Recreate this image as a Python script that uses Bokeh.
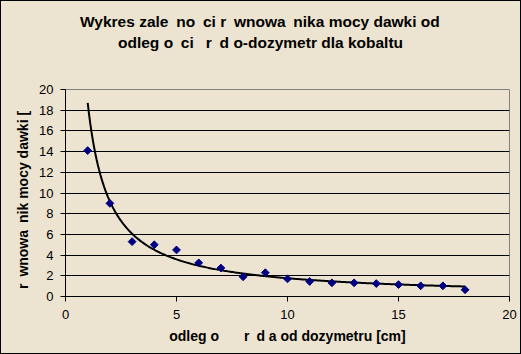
import numpy as np
from bokeh.plotting import figure
from bokeh.layouts import column
from bokeh.models import Title, FixedTicker
from bokeh.embed import file_html
from bokeh.resources import INLINE

# --- data ---
distance_cm = [1, 2, 3, 4, 5, 6, 7, 8, 9, 10, 11, 12, 13, 14, 15, 16, 17, 18]
dose_rate = [14.1, 9.0, 5.3, 5.0, 4.5, 3.25, 2.75, 1.9, 2.3, 1.7, 1.45, 1.32,
             1.32, 1.25, 1.15, 1.03, 1.03, 0.65]

# power trend line (as displayed): y = a * x^b, drawn from x=1 to x=18
trend_a = 18.7
trend_b = -1.025
trend_start = 1
trend_end = 18

x_ticks = [0, 5, 10, 15, 20]
y_ticks = [0, 2, 4, 6, 8, 10, 12, 14, 16, 18, 20]

EN = "\u2002"
NB = "\u00a0"
title_lines = [
    "Wykres zale" + EN + "no" + EN + "ci r" + EN + "wnowa" + EN + "nika mocy dawki od",
    "odleg" + NB + "o" + EN + "ci" + NB + EN + "r" + EN + "d" + NB + "o-dozymetr dla kobaltu",
]
x_label = "odleg" + NB + "o" + EN + EN + EN + NB + "r" + EN + "d" + NB + "a od dozymetru [cm]"
y_label = "r" + EN + "wnowa" + EN + "nik mocy dawki [" + EN + EN

BG = "#ECE4D0"
FONT = "Liberation Sans"

p = figure(width=519, height=352, x_range=(0, 20), y_range=(0, 20),
           title=None, output_backend="svg", toolbar_location=None,
           min_border_left=64, min_border_right=11,
           min_border_top=88, min_border_bottom=57,
           background_fill_color=BG, border_fill_color=BG)
p.outline_line_color = "#808080"
p.outline_line_width = 1

# grid
p.xgrid.visible = False
p.ygrid.grid_line_color = "black"
p.ygrid.grid_line_width = 1

# axes
p.xaxis.ticker = FixedTicker(ticks=x_ticks)
p.yaxis.ticker = FixedTicker(ticks=y_ticks)
for ax in (p.xaxis[0], p.yaxis[0]):
    ax.axis_line_color = "black"
    ax.major_tick_line_color = "black"
    ax.major_tick_in = 0
    ax.major_tick_out = 5
    ax.minor_tick_line_color = None
    ax.major_label_text_font = FONT
    ax.major_label_text_font_size = "13px"
    ax.major_label_text_color = "black"
    ax.axis_label_text_font = FONT
    ax.axis_label_text_font_size = "14px"
    ax.axis_label_text_font_style = "bold"
    ax.axis_label_text_color = "black"

p.xaxis.axis_label = x_label
p.yaxis.axis_label = y_label
p.xaxis.major_label_standoff = 8
p.xaxis.axis_label_standoff = 6
p.yaxis.major_label_standoff = 7
p.yaxis.axis_label_standoff = 5

# trend line
trend_x = np.linspace(trend_start, trend_end, 300)
trend_y = trend_a * trend_x ** trend_b
p.line(trend_x, trend_y, line_color="black", line_width=2)

# data points (diamonds)
p.scatter(distance_cm, dose_rate, marker="square", angle=np.pi / 4, size=5.5,
          fill_color="#000080", line_color="#000080")

# blank spacer between the plot area and the title block
p.add_layout(Title(text=NB, text_font_size="1px", standoff=35,
                   text_color=BG), "above")
# title: two lines, second line added first (closest to the plot)
title_offsets = [14.5, 52.5]
for txt, off in reversed(list(zip(title_lines, title_offsets))):
    p.add_layout(Title(text=txt, align="left", offset=off, standoff=2,
                       text_font=FONT, text_font_size="15.5px",
                       text_font_style="bold", text_color="black"), "above")

layout = column(p, styles={"border": "1px solid black", "background-color": BG})

open("out.html", "w").write(file_html(layout, INLINE))
